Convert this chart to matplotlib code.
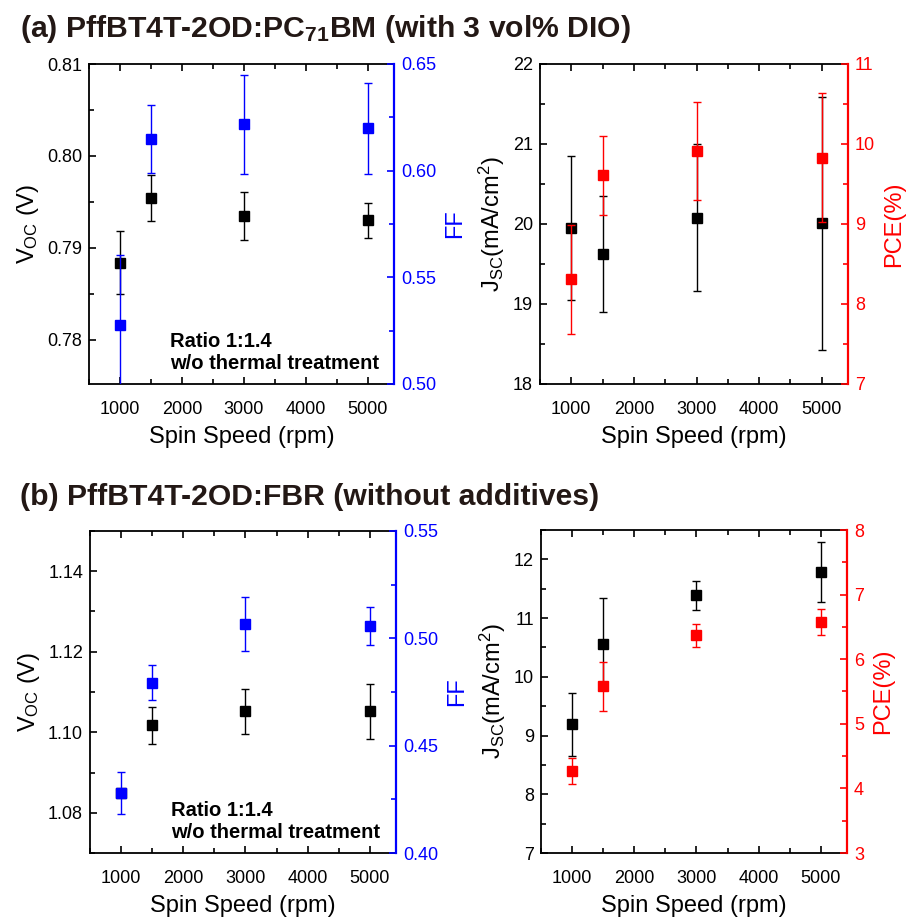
import matplotlib
matplotlib.use("Agg")
import matplotlib.pyplot as plt
from matplotlib.ticker import MultipleLocator

plt.rcParams['font.family'] = ['Liberation Sans', 'DejaVu Sans']
plt.rcParams['mathtext.default'] = 'regular'

# ---------------- data ----------------
speed = [1000, 1500, 3000, 5000]

# (a) PffBT4T-2OD:PC71BM
a_voc = [0.7884, 0.7954, 0.7935, 0.7930]
a_voc_err = [0.0034, 0.0025, 0.0026, 0.0019]
a_ff = [0.5276, 0.6150, 0.6218, 0.6199]
a_ff_err = [0.0330, 0.0160, 0.0232, 0.0213]
a_jsc = [19.955, 19.624, 20.079, 20.008]
a_jsc_err = [0.90, 0.72, 0.92, 1.58]
a_pce = [8.31, 9.607, 9.909, 9.83]
a_pce_err = [0.68, 0.49, 0.61, 0.81]

# (b) PffBT4T-2OD:FBR
b_voc = [1.0850, 1.1017, 1.1052, 1.1052]
b_voc_err = [0.0010, 0.0045, 0.0056, 0.0068]
b_ff = [0.4280, 0.4794, 0.5067, 0.5058]
b_ff_err = [0.0098, 0.0080, 0.0124, 0.0089]
b_jsc = [9.19, 10.56, 11.386, 11.79]
b_jsc_err = [0.535, 0.78, 0.25, 0.51]
b_pce = [4.264, 5.578, 6.372, 6.578]
b_pce_err = [0.20, 0.38, 0.18, 0.20]

title_a = r'(a) PffBT4T-2OD:PC$_{71}$BM (with 3 vol% DIO)'
title_b = '(b) PffBT4T-2OD:FBR (without additives)'
note = 'Ratio 1:1.4\nw/o thermal treatment'

BLUE = '#0000ff'
RED = '#ff0000'

W, H = 912, 922
fig = plt.figure(figsize=(W / 100, H / 100), dpi=100)


def rect(l, r, t, b):
    return [l / W, 1 - b / H, (r - l) / W, (b - t) / H]


TICK_FS = 13
LABEL_FS = 17
XLIM = (500, 5420)


def style_main(ax):
    ax.set_xlim(*XLIM)
    ax.xaxis.set_major_locator(MultipleLocator(1000))
    ax.xaxis.set_minor_locator(MultipleLocator(500))
    ax.tick_params(axis='both', which='both', direction='in', top=True,
                   labelsize=TICK_FS, width=1.2, pad=5)
    ax.tick_params(axis='x', which='both', pad=12)
    ax.tick_params(axis='both', which='major', length=5)
    ax.tick_params(axis='both', which='minor', length=3.5)
    ax.tick_params(axis='x', which='minor', labelbottom=False)
    for s in ax.spines.values():
        s.set_linewidth(1.3)
    ax.set_xlabel('Spin Speed (rpm)', fontsize=LABEL_FS, labelpad=6)


def style_twin(ax2, color):
    ax2.tick_params(axis='y', which='both', direction='in', colors=color,
                    labelsize=TICK_FS, width=1.2, pad=5)
    ax2.tick_params(axis='y', which='major', length=5)
    ax2.tick_params(axis='y', which='minor', length=3.5)
    ax2.spines['right'].set_color(color)
    ax2.spines['right'].set_linewidth(1.6)
    ax2.spines['left'].set_visible(False)
    ax2.spines['top'].set_visible(False)
    ax2.spines['bottom'].set_visible(False)


eb_kw = dict(fmt='s', markersize=6.5, capsize=3, elinewidth=1.0,
             capthick=1.0, clip_on=True)


def panel(pos, y1, e1, y2, e2, lim1, lim2, maj1, min1, maj2, min2,
          lab1, lab2, col2, fmt1, fmt2, show_note):
    ax = fig.add_axes(rect(*pos))
    ax.errorbar(speed, y1, yerr=e1, color='black', ecolor='black',
                mec='black', **eb_kw)
    ax.set_ylim(*lim1)
    ax.yaxis.set_major_locator(MultipleLocator(maj1))
    ax.yaxis.set_minor_locator(MultipleLocator(min1))
    ax.yaxis.set_major_formatter(fmt1)
    style_main(ax)
    ax.set_ylabel(lab1, fontsize=LABEL_FS, labelpad=4)
    ax2 = ax.twinx()
    ax2.errorbar(speed, y2, yerr=e2, color=col2, ecolor=col2, mec=col2,
                 **eb_kw)
    ax2.set_ylim(*lim2)
    ax2.yaxis.set_major_locator(MultipleLocator(maj2))
    ax2.yaxis.set_minor_locator(MultipleLocator(min2))
    ax2.yaxis.set_major_formatter(fmt2)
    style_twin(ax2, col2)
    ax2.set_ylabel(lab2, fontsize=LABEL_FS, color=col2, rotation=90,
                   labelpad=6)
    if show_note:
        ax.text(0.266, 0.035, note, transform=ax.transAxes, fontsize=14.5,
                fontweight='bold', ha='left', va='bottom', linespacing=1.2,
                zorder=10)
    return ax, ax2


voc_lab = r'V$_{OC}$ (V)'
jsc_lab = r'J$_{SC}$(mA/cm$^{2}$)'

panel((89, 394, 64, 384), a_voc, a_voc_err, a_ff, a_ff_err,
      (0.7752, 0.81), (0.50, 0.65), 0.01, 0.005, 0.05, 0.025,
      voc_lab, 'FF', BLUE, '{x:.2f}', '{x:.2f}', True)
panel((540, 848, 64, 384), a_jsc, a_jsc_err, a_pce, a_pce_err,
      (18, 22), (7, 11), 1, 0.5, 1, 0.5,
      jsc_lab, 'PCE(%)', RED, '{x:.0f}', '{x:.0f}', False)
panel((90, 396, 531, 853), b_voc, b_voc_err, b_ff, b_ff_err,
      (1.07, 1.15), (0.40, 0.55), 0.02, 0.01, 0.05, 0.025,
      voc_lab, 'FF', BLUE, '{x:.2f}', '{x:.2f}', True)
panel((541, 847, 530, 853), b_jsc, b_jsc_err, b_pce, b_pce_err,
      (7, 12.5), (3, 8), 1, 0.5, 1, 0.5,
      jsc_lab, 'PCE(%)', RED, '{x:.0f}', '{x:.0f}', False)

TITLE_COLOR = '#231815'
fig.text(20 / W, 1 - 29 / H, title_a, fontsize=21.7, fontweight='bold',
         color=TITLE_COLOR, ha='left', va='center')
fig.text(20 / W, 1 - 497 / H, title_b, fontsize=21.7, fontweight='bold',
         color=TITLE_COLOR, ha='left', va='center')

fig.savefig('out.png', dpi=100)
